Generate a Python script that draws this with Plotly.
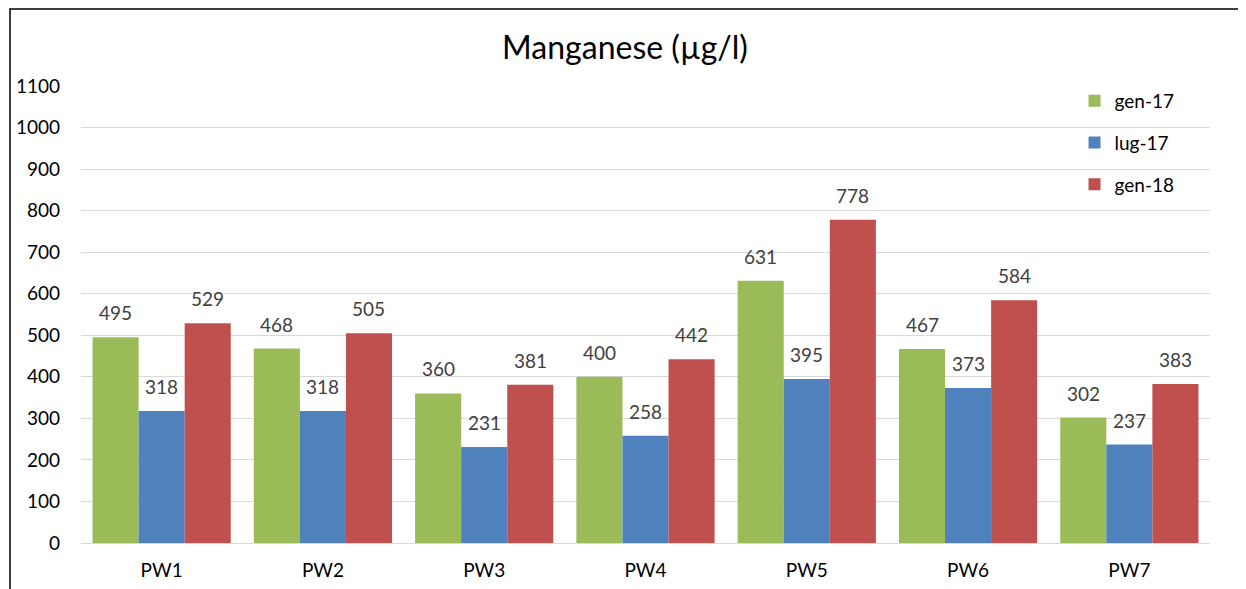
import plotly.graph_objects as go

categories = ["PW1", "PW2", "PW3", "PW4", "PW5", "PW6", "PW7"]
gen17 = [495, 468, 360, 400, 631, 467, 302]
lug17 = [318, 318, 231, 258, 395, 373, 237]
gen18 = [529, 505, 381, 442, 778, 584, 383]
series_names = ["gen-17", "lug-17", "gen-18"]
series_values = [gen17, lug17, gen18]
colors = ["#9BBB59", "#4F81BD", "#C0504D"]

FONT = "Lato"
FS = 19
fig = go.Figure()
for name, vals, col in zip(series_names, series_values, colors):
    fig.add_trace(go.Bar(
        x=categories, y=vals, name=name, legendgroup=name,
        marker=dict(color=col, line=dict(width=0)),
    ))

# data labels
bar_px = 46
for i, vals in enumerate(series_values):
    for c, v in zip(categories, vals):
        fig.add_annotation(x=c, y=v, xref="x", yref="y", text=str(v),
                           showarrow=False, xshift=(i - 1) * bar_px,
                           yanchor="bottom", yshift=11,
                           font=dict(family=FONT, size=FS, color="#404040"))

W, H = 1238, 581
fig.update_layout(
    width=W, height=H,
    margin=dict(l=73, r=36, t=78, b=46, autoexpand=False),
    paper_bgcolor="white", plot_bgcolor="white",
    barmode="group", bargap=0.143, bargroupgap=0,
    title=dict(text="Manganese (µg/l)", x=617 / W, xanchor="center",
               y=1 - 40 / H, yanchor="middle", automargin=False,
               font=dict(family=FONT, size=32, color="#000000")),
    font=dict(family=FONT, size=FS, color="#000000"),
    legend=dict(x=0.88, y=1.009, xanchor="left", yanchor="top",
                bgcolor="rgba(0,0,0,0)", traceorder="grouped",
                tracegroupgap=14, font=dict(family=FONT, size=FS, color="#000000")),
    xaxis=dict(showgrid=False, showline=False, ticks="", automargin=False,
               ticklabelstandoff=14,
               tickfont=dict(family=FONT, size=FS, color="#000000")),
    yaxis=dict(range=[0, 1100], dtick=100, showgrid=True, gridcolor="#D9D9D9",
               gridwidth=1, zeroline=True, zerolinecolor="#D9D9D9", zerolinewidth=1,
               ticks="", ticklabelstandoff=20, automargin=False,
               tickfont=dict(family=FONT, size=FS, color="#000000")),
    showlegend=True,
)

fig.add_shape(type="rect", xref="paper", yref="paper",
              x0=-71 / 1129, x1=1159 / 1129, y0=-100 / 457, y1=534 / 457,
              line=dict(color="#000000", width=1.5), fillcolor="rgba(0,0,0,0)",
              layer="above")

fig.write_html("out.html")
